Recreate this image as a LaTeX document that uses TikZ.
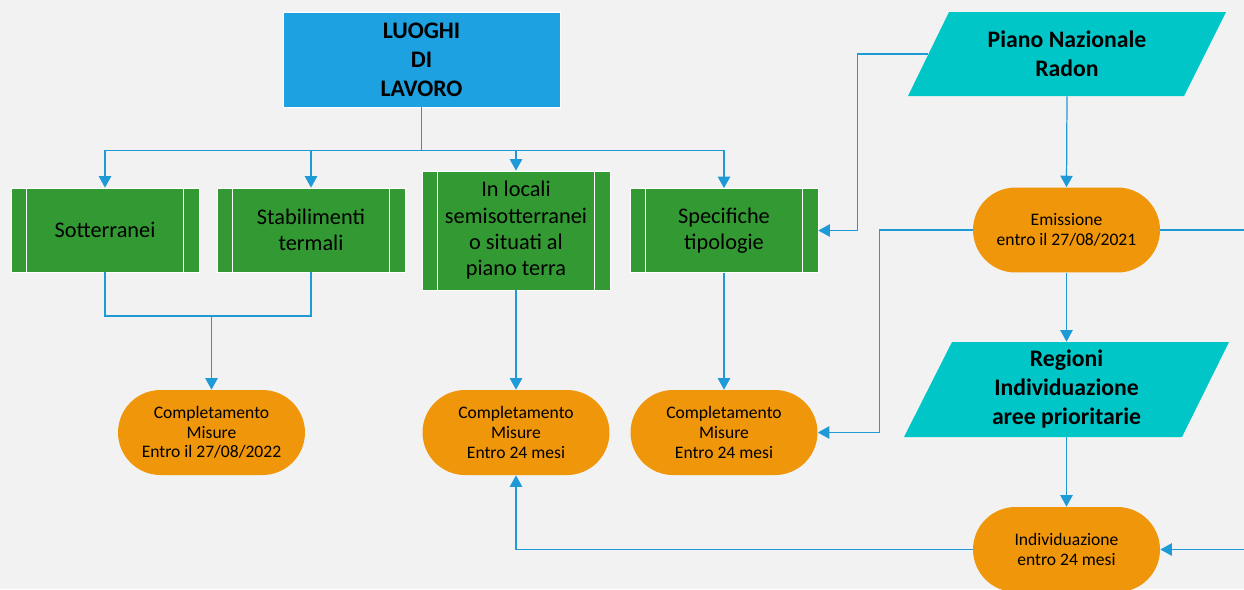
\documentclass[tikz,border=0pt]{standalone}
\usepackage{fontspec}
\setmainfont{Carlito}
\usetikzlibrary{arrows.meta}

\definecolor{bggrey}{HTML}{F2F2F2}
\definecolor{lavblue}{HTML}{1EA1E0}
\definecolor{procgreen}{HTML}{339933}
\definecolor{termorange}{HTML}{F0960A}
\definecolor{datacyan}{HTML}{00C6C8}
\definecolor{lineblue}{HTML}{1E9AD6}

\tikzset{
  conn/.style={draw=lineblue, line width=0.7pt},
  arr/.style={conn, -{Triangle[width=7pt,length=6.5pt]}},
  topbox/.style={shape=rectangle, fill=lavblue, draw=white, line width=0.4pt,
    minimum width=5.54cm, minimum height=1.9cm, inner sep=0pt, align=center,
    font=\fontsize{13.5}{16.5}\selectfont\bfseries},
  procbox/.style={shape=rectangle, fill=procgreen, draw=white, line width=0.4pt,
    minimum width=3.76cm, minimum height=1.68cm, inner sep=0pt, align=center,
    font=\fontsize{12.7}{15}\selectfont},
  termbox/.style={shape=rectangle, fill=termorange, rounded corners=0.85cm,
    minimum width=3.74cm, minimum height=1.7cm, inner sep=0pt, align=center,
    font=\fontsize{10}{11.2}\selectfont},
  databox/.style={shape=rectangle, minimum width=5.54cm, inner sep=0pt, align=center,
    font=\fontsize{13.5}{16.5}\selectfont\bfseries},
}

\begin{document}
\begin{tikzpicture}[x=0.02cm,y=-0.02cm]
  \useasboundingbox (0,0) rectangle (1244,589);
  \fill[bggrey] (0,0) rectangle (1244,589);
  \clip (0,0) rectangle (1244,589);

  % parallelograms
  \fill[datacyan] (908,96) -- (949,12) -- (1226,12) -- (1184,96) -- cycle;
  \fill[datacyan] (904,437) -- (952,342) -- (1229,342) -- (1182,437) -- cycle;

  \node[topbox] (lav) at (421.5,59.5) {LUOGHI\\DI\\LAVORO};

  \node[procbox] (sott) at (105,230) {Sotterranei};
  \node[procbox] (stab) at (311,230) {Stabilimenti\\termali};
  \node[procbox, minimum height=2.38cm] (loc) at (516,230.5) {In locali\\semisotterranei\\o situati al\\piano terra};
  \node[procbox] (spec) at (724,230.5) {Specifiche\\tipologie};

  \foreach \n in {sott,stab,loc,spec} {
    \draw[white, line width=0.4pt] ([xshift=0.32cm]\n.north west) -- ([xshift=0.32cm]\n.south west);
    \draw[white, line width=0.4pt] ([xshift=-0.32cm]\n.north east) -- ([xshift=-0.32cm]\n.south east);
  }

  \node[termbox] (cm1) at (211.5,432.5) {Completamento\\Misure\\Entro il 27/08/2022};
  \node[termbox] (cm2) at (516,432.5) {Completamento\\Misure\\Entro 24 mesi};
  \node[termbox] (cm3) at (724,432.5) {Completamento\\Misure\\Entro 24 mesi};

  \node[databox, minimum height=1.68cm] (pnr) at (1067,54) {Piano Nazionale\\Radon};
  \node[termbox] (em) at (1066.5,230) {Emissione\\entro il 27/08/2021};
  \node[databox, minimum height=1.9cm] (reg) at (1066.5,389.5) {Regioni\\Individuazione\\aree prioritarie};
  \node[termbox] (ind) at (1066.5,549.5) {Individuazione\\entro 24 mesi};

  \coordinate (mrg) at (211.5,316);

  \path[arr] (lav.south) -- ++(0,43) -| (sott.north);
  \path[arr] (lav.south) -- ++(0,43) -| (stab.north);
  \path[arr] (lav.south) -- ++(0,43) -| (loc.north);
  \path[arr] (lav.south) -- ++(0,43) -| (spec.north);
  \path[conn] (sott.south) |- (mrg) -| (stab.south);
  \path[arr] (mrg) -- (cm1.north);
  \path[arr] (loc.south) -- (cm2.north);
  \path[arr] (spec.south) -- (cm3.north);
  \path[arr] (pnr.south) -- (em.north);
  \path[arr] (pnr.west) -- ++(-71,0) |- (spec.east);
  \path[arr] (em.west) -- ++(-93,0) |- (cm3.east);
  \path[arr] (em.east) -- ++(120,0) |- (ind.east);
  \path[arr] (em.south) -- (reg.north);
  \path[arr] (reg.south) -- (ind.north);
  \path[arr] (ind.west) -| (cm2.south);

\end{tikzpicture}
\end{document}
